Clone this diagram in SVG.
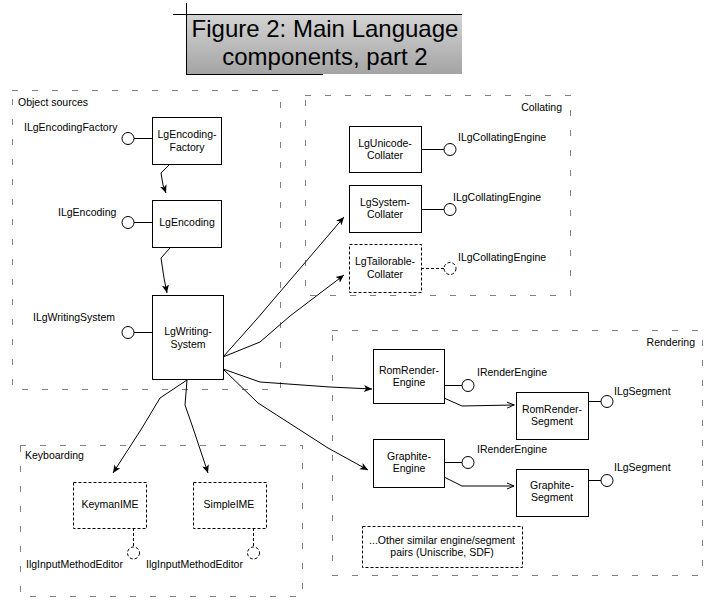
<svg xmlns="http://www.w3.org/2000/svg" width="711" height="602" viewBox="0 0 711 602">
<defs>
<linearGradient id="tg" x1="0" y1="0" x2="0" y2="1">
<stop offset="0" stop-color="#d4d4d4"/>
<stop offset="1" stop-color="#a4a4a4"/>
</linearGradient>
<marker id="ah" markerWidth="9" markerHeight="8" refX="8" refY="4" orient="auto" markerUnits="userSpaceOnUse">
<path d="M0,0.5 L8,4 L0,7.5 L2,4 Z" fill="#000"/>
</marker>
<marker id="oa" markerWidth="9" markerHeight="8" refX="8" refY="4" orient="auto" markerUnits="userSpaceOnUse">
<path d="M1,1 L8,4 L1,7" fill="none" stroke="#000" stroke-width="1"/>
</marker>
</defs>
<style>
text{font-family:"Liberation Sans",Arial,sans-serif;font-size:10.5px;fill:#000}
.c{text-anchor:middle}
.r{text-anchor:end}
.box{fill:#fff;stroke:#000;stroke-width:1}
.dbox{fill:#fff;stroke:#000;stroke-width:1;stroke-dasharray:3 2}
.lol{fill:#fff;stroke:#000;stroke-width:1}
.dlol{fill:#fff;stroke:#000;stroke-width:1;stroke-dasharray:3 2}
.ln{fill:none;stroke:#000;stroke-width:1}
.dln{fill:none;stroke:#000;stroke-width:1;stroke-dasharray:3 2}
.reg{fill:none;stroke:#000;stroke-width:1;stroke-dasharray:1 1 1 1 1 15}
.title{font-size:24px;text-anchor:middle}
</style>
<rect width="711" height="602" fill="#fff"/>
<g id="title">
<rect x="186" y="14" width="276" height="60" fill="url(#tg)"/>
<line x1="173" y1="14.5" x2="462" y2="14.5" stroke="#000"/>
<line x1="186.5" y1="3" x2="186.5" y2="74" stroke="#000"/>
<line x1="186" y1="74.5" x2="323" y2="74.5" stroke="#000"/>
<text class="title" x="325" y="37">Figure 2: Main Language</text>
<text class="title" x="325" y="65">components, part 2</text>
</g>
<g id="regions">
<rect class="reg" x="12.5" y="90.5" width="268" height="299"/>
<text x="18" y="106">Object sources</text>
<rect class="reg" x="305.5" y="95.5" width="265" height="200"/>
<text class="r" x="562" y="111">Collating</text>
<rect class="reg" x="332.5" y="330.5" width="370" height="245"/>
<text class="r" x="695" y="346">Rendering</text>
<rect class="reg" x="20.5" y="445.5" width="282" height="151"/>
<text x="25" y="459">Keyboarding</text>
</g>
<g id="connectors">
<polyline class="ln" points="170,164 161,173 163,185 166,193" marker-end="url(#ah)"/>
<polyline class="ln" points="170,248 161,258 164,278 167,293" marker-end="url(#ah)"/>
<polyline class="ln" points="223,357 256,320 344,217" marker-end="url(#ah)"/>
<polyline class="ln" points="223,357 260,342 290,316 344,275" marker-end="url(#ah)"/>
<polyline class="ln" points="223,369 260,382 330,387 372,389" marker-end="url(#ah)"/>
<polyline class="ln" points="223,369 258,403 328,448 368,470" marker-end="url(#ah)"/>
<polyline class="ln" points="187,380 160,398 142,428 113,473" marker-end="url(#ah)"/>
<polyline class="ln" points="187,380 185,405 193,428 208,473" marker-end="url(#ah)"/>
<polyline class="ln" points="444,398 462,406 514,405" marker-end="url(#oa)"/>
<polyline class="ln" points="444,477 462,486 514,486" marker-end="url(#oa)"/>
<line class="ln" x1="134" y1="138.5" x2="152" y2="138.5"/>
<line class="ln" x1="134" y1="222.5" x2="152" y2="222.5"/>
<line class="ln" x1="134" y1="332.5" x2="152" y2="332.5"/>
<line class="ln" x1="421" y1="149.5" x2="444" y2="149.5"/>
<line class="ln" x1="421" y1="209.5" x2="444" y2="209.5"/>
<line class="dln" x1="421" y1="268.5" x2="444" y2="268.5"/>
<line class="ln" x1="444" y1="385.5" x2="462" y2="385.5"/>
<line class="ln" x1="444" y1="462.5" x2="462" y2="462.5"/>
<line class="ln" x1="588" y1="401.5" x2="601" y2="401.5"/>
<line class="ln" x1="588" y1="480.5" x2="601" y2="480.5"/>
<line class="dln" x1="133.5" y1="528" x2="133.5" y2="547"/>
<line class="dln" x1="253.5" y1="528" x2="253.5" y2="547"/>
</g>
<g id="LgEncodingFactory">
<rect class="box" x="152.5" y="117.5" width="69" height="47"/>
<text class="c" x="187" y="138">LgEncoding-</text>
<text class="c" x="187" y="151">Factory</text>
<circle class="lol" cx="128" cy="138.5" r="6"/>
<text x="24" y="131">ILgEncodingFactory</text>
</g>
<g id="LgEncoding">
<rect class="box" x="152.5" y="200.5" width="69" height="47"/>
<text class="c" x="187" y="226">LgEncoding</text>
<circle class="lol" cx="128" cy="222.5" r="6"/>
<text x="58" y="216">ILgEncoding</text>
</g>
<g id="LgWritingSystem">
<rect class="box" x="152.5" y="295.5" width="71" height="84"/>
<text class="c" x="188" y="335">LgWriting-</text>
<text class="c" x="188" y="348">System</text>
<circle class="lol" cx="128" cy="332.5" r="6"/>
<text x="33" y="321">ILgWritingSystem</text>
</g>
<g id="LgUnicodeCollater">
<rect class="box" x="349.5" y="126.5" width="72" height="46"/>
<text class="c" x="385" y="147">LgUnicode-</text>
<text class="c" x="385" y="159">Collater</text>
<circle class="lol" cx="450" cy="149.5" r="6"/>
<text x="458" y="141">ILgCollatingEngine</text>
</g>
<g id="LgSystemCollater">
<rect class="box" x="349.5" y="185.5" width="72" height="47"/>
<text class="c" x="385" y="206">LgSystem-</text>
<text class="c" x="385" y="218">Collater</text>
<circle class="lol" cx="450" cy="209.5" r="6"/>
<text x="453" y="201">ILgCollatingEngine</text>
</g>
<g id="LgTailorableCollater">
<rect class="dbox" x="349.5" y="244.5" width="72" height="48"/>
<text class="c" x="385" y="265">LgTailorable-</text>
<text class="c" x="385" y="278">Collater</text>
<circle class="dlol" cx="450" cy="268.5" r="6"/>
<text x="458" y="261">ILgCollatingEngine</text>
</g>
<g id="RomRenderEngine">
<rect class="box" x="373.5" y="349.5" width="71" height="54"/>
<text class="c" x="409" y="374">RomRender-</text>
<text class="c" x="409" y="386">Engine</text>
<circle class="lol" cx="468" cy="385.5" r="6"/>
<text x="477" y="376">IRenderEngine</text>
</g>
<g id="RomRenderSegment">
<rect class="box" x="516.5" y="392.5" width="72" height="47"/>
<text class="c" x="552" y="413">RomRender-</text>
<text class="c" x="552" y="425">Segment</text>
<circle class="lol" cx="607" cy="401.5" r="6"/>
<text x="614" y="395">ILgSegment</text>
</g>
<g id="GraphiteEngine">
<rect class="box" x="373.5" y="439.5" width="71" height="48"/>
<text class="c" x="409" y="460">Graphite-</text>
<text class="c" x="409" y="472">Engine</text>
<circle class="lol" cx="468" cy="462.5" r="6"/>
<text x="477" y="453">IRenderEngine</text>
</g>
<g id="GraphiteSegment">
<rect class="box" x="516.5" y="469.5" width="72" height="47"/>
<text class="c" x="552" y="489">Graphite-</text>
<text class="c" x="552" y="501">Segment</text>
<circle class="lol" cx="607" cy="480.5" r="6"/>
<text x="614" y="471">ILgSegment</text>
</g>
<g id="OtherPairs">
<rect class="dbox" x="362.5" y="526.5" width="160" height="41"/>
<text class="c" x="442" y="544">...Other similar engine/segment</text>
<text class="c" x="442" y="556">pairs (Uniscribe, SDF)</text>
</g>
<g id="KeymanIME">
<rect class="dbox" x="73.5" y="482.5" width="73" height="46"/>
<text class="c" x="110" y="508">KeymanIME</text>
<circle class="dlol" cx="133.5" cy="553" r="6"/>
<text x="26" y="568">IlgInputMethodEditor</text>
</g>
<g id="SimpleIME">
<rect class="dbox" x="193.5" y="482.5" width="73" height="46"/>
<text class="c" x="229" y="508">SimpleIME</text>
<circle class="dlol" cx="253.5" cy="553" r="6"/>
<text x="146" y="568">IlgInputMethodEditor</text>
</g>
</svg>
